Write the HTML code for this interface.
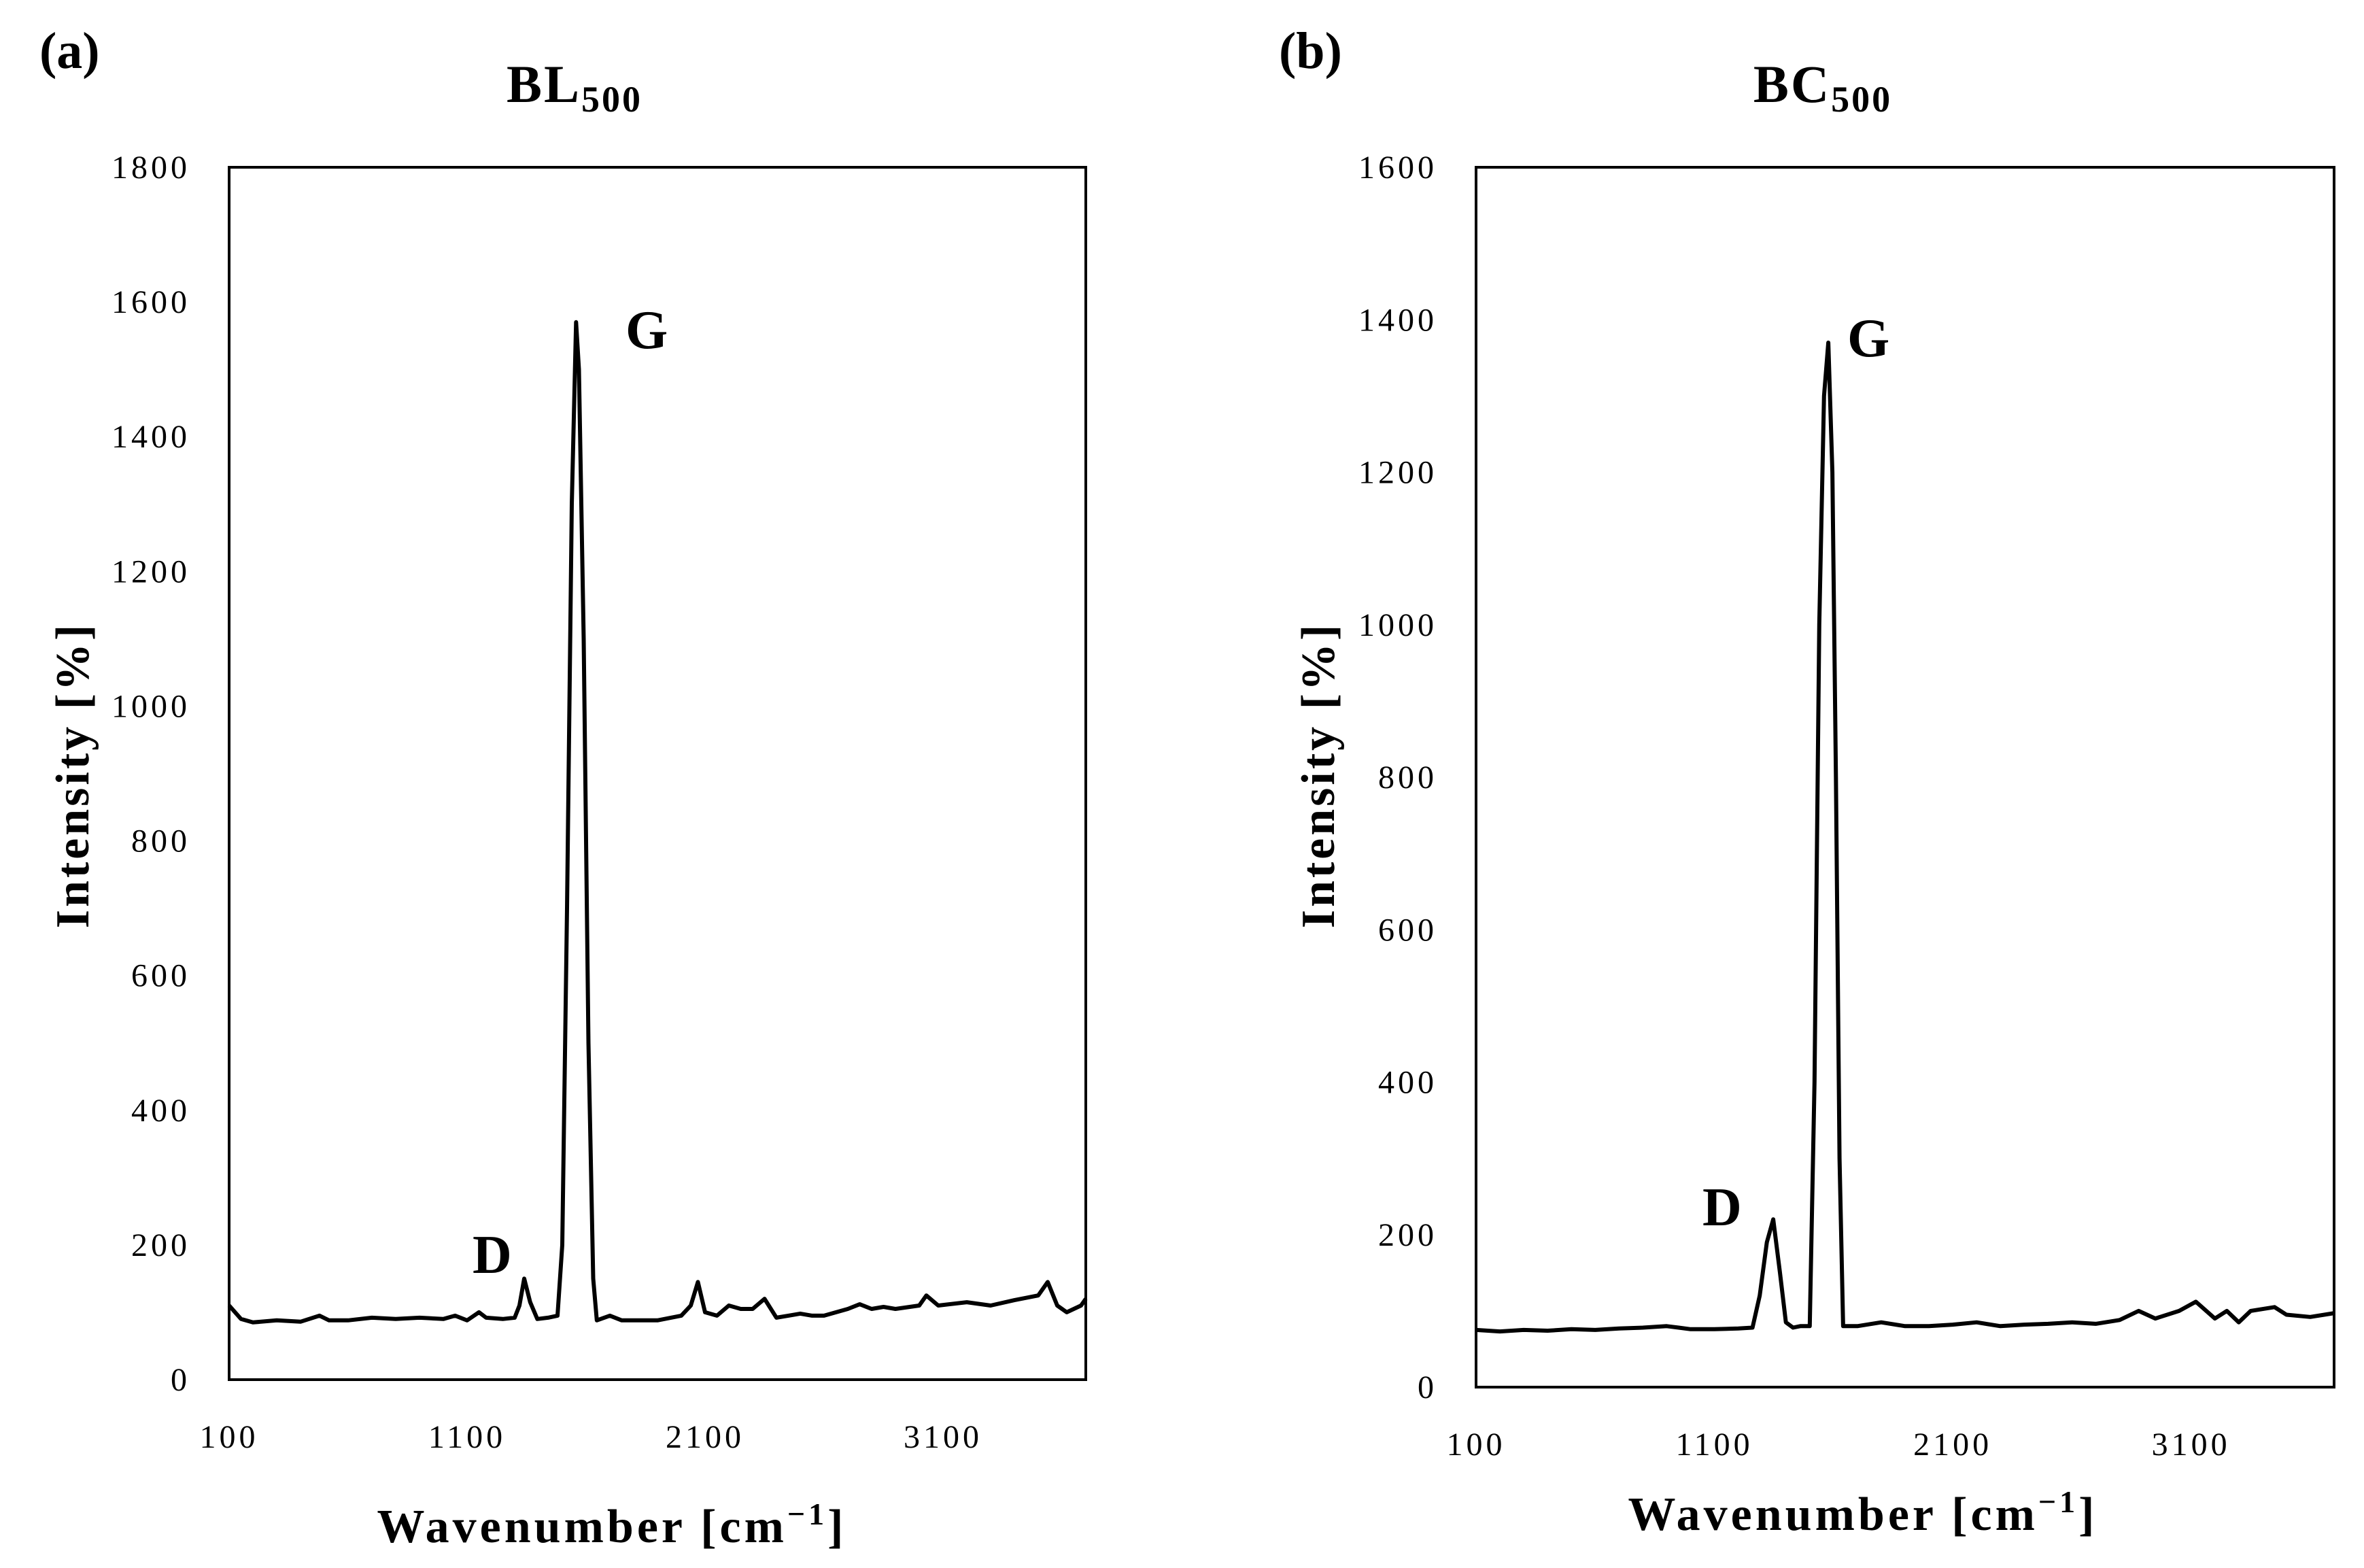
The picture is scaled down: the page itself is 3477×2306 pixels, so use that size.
<!DOCTYPE html>
<html><head><meta charset="utf-8">
<style>
html,body{margin:0;padding:0;background:#fff;}
svg{display:block;font-family:"Liberation Serif",serif;}
</style></head>
<body>
<svg id="fig" width="3477" height="2306" viewBox="0 0 3477 2306"></svg>
<script>
const xTicks=[100,1100,2100,3100];
const yTicksA=[0,200,400,600,800,1000,1200,1400,1600,1800];
const yTicksB=[0,200,400,600,800,1000,1200,1400,1600];
const wnA=[100,150,200,300,400,480,520,600,700,800,900,1000,1050,1100,1150,1180,1250,1300,1320,1340,1365,1395,1440,1480,1500,1520,1540,1558,1570,1590,1610,1630,1645,1700,1750,1800,1900,2000,2040,2070,2100,2150,2200,2250,2300,2350,2400,2450,2500,2550,2600,2700,2750,2800,2850,2900,3000,3030,3080,3200,3300,3400,3500,3540,3580,3620,3680,3700];
const intA=[110,90,85,88,86,95,88,88,92,90,92,90,95,88,100,92,90,92,110,150,115,90,92,95,200,700,1300,1570,1500,1100,500,150,88,95,88,88,88,95,110,145,100,95,110,105,105,120,92,95,98,95,95,105,112,105,108,105,110,125,110,115,110,118,125,145,110,100,110,120];
const wnB=[100,200,300,400,500,600,700,800,900,950,1000,1100,1200,1260,1290,1320,1347,1375,1400,1430,1460,1500,1520,1540,1560,1578,1595,1610,1625,1640,1700,1800,1900,2000,2100,2200,2300,2400,2500,2600,2700,2800,2880,2950,3050,3120,3200,3250,3300,3350,3450,3500,3600,3700];
const intB=[75,73,75,74,76,75,77,78,80,78,76,76,77,78,120,190,220,150,85,78,80,80,400,1000,1300,1370,1200,800,300,80,80,85,80,80,82,85,80,82,83,85,83,88,100,90,100,112,90,100,85,100,105,95,92,97];

const NS='http://www.w3.org/2000/svg';
const svg=document.getElementById('fig');
function el(tag,attrs,parent,text){const e=document.createElementNS(NS,tag);for(const k in attrs)e.setAttribute(k,attrs[k]);if(text!==undefined)e.textContent=text;(parent||svg).appendChild(e);return e;}

function panel(cfg){
  const g=el('g',{});
  
  
  const L=cfg.l,R=cfg.r,T=cfg.t,B=cfg.b;
  const sx=v=>L+(v-100)/(3700-100)*(R-L);
  const sy=v=>B-v/cfg.ymax*(B-T);
  const box=el('rect',{x:L,y:T,width:R-L,height:B-T,fill:'none',stroke:'#000','stroke-width':4},g);
  
  
  cfg.yt.forEach(v=>{
    const t=el('text',{x:L-57,y:sy(v)+16,'text-anchor':'end','font-size':48,'letter-spacing':5},g,String(v));
    
    
  });
  xTicks.forEach(v=>{
    const t=el('text',{x:sx(v),y:B+100,'text-anchor':'middle','font-size':48,'letter-spacing':5},g,String(v));
    
    
  });
  const d=cfg.x.map((v,i)=>(i?'L':'M')+sx(v).toFixed(1)+','+sy(cfg.y[i]).toFixed(1)).join('');
  const p=el('path',{d:d,fill:'none',stroke:'#000','stroke-width':6,'stroke-linejoin':'round'},g);
  
  
  const lab=el('text',{x:cfg.px,y:100,'font-size':76,'font-weight':'bold'},g,cfg.tag);
  
  
  const ti=el('text',{x:cfg.tx,y:150,'text-anchor':'middle','font-size':78,'font-weight':'bold','letter-spacing':3},g);
  
  
  el('tspan',{},ti,cfg.title);
  el('tspan',{'font-size':54,dy:14},ti,'500');
  const yt=el('text',{transform:'translate('+(cfg.yx)+',1140) rotate(-90)','text-anchor':'middle','font-size':70,'font-weight':'bold','letter-spacing':4},g,'Intensity [%]');
  
  
  const xt=el('text',{x:cfg.xtx,y:cfg.xty,'text-anchor':'middle','font-size':70,'font-weight':'bold','letter-spacing':5},g);
  
  
  el('tspan',{},xt,'Wavenumber [cm');
  el('tspan',{'font-size':46,dy:-26},xt,'\u22121');
  el('tspan',{dy:26},xt,']');
  const G=el('text',{x:cfg.gx,y:cfg.gy,'font-size':80,'font-weight':'bold'},g,'G');
  
  
  const D=el('text',{x:cfg.dx,y:cfg.dy,'font-size':80,'font-weight':'bold'},g,'D');
  
  
}
panel({id:'bl500',l:337,r:1597,t:246,b:2029,ymax:1800,yt:yTicksA,x:wnA,y:intA,px:58,tag:'(a)',tx:845,title:'BL',yx:130,xtx:900,xty:2268,gx:920,gy:512,dx:695,dy:1872});
panel({id:'bc500',l:2171,r:3433,t:246,b:2040,ymax:1600,yt:yTicksB,x:wnB,y:intB,px:1881,tag:'(b)',tx:2681,title:'BC',yx:1962,xtx:2740,xty:2250,gx:2717,gy:524,dx:2504,dy:1802});
</script>
</body></html>
